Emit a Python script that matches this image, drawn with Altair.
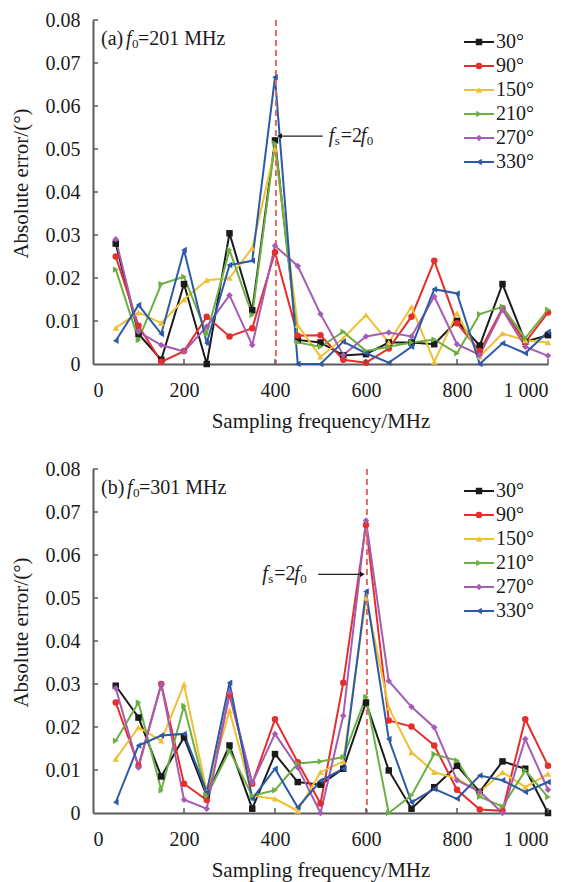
import altair as alt
import pandas as pd

# ---------------------------------------------------------------- data
freq_mhz = [50, 100, 150, 200, 250, 300, 350, 400, 450, 500,
            550, 600, 650, 700, 750, 800, 850, 900, 950, 1000]
angles = ["30°", "90°", "150°", "210°", "270°", "330°"]
line_colors = ["#1b1b1b", "#e42f2c", "#eec134", "#6cb043", "#a55db4", "#2d5aa7"]
marker_shapes = ["square", "circle", "triangle-up", "triangle-right", "diamond", "triangle-left"]

x_ticks = [0, 200, 400, 600, 800, 1000]
y_ticks = [0, 0.01, 0.02, 0.03, 0.04, 0.05, 0.06, 0.07, 0.08]

# (a) f0 = 201 MHz
f0_a = 201
err_a_30 = [0.028, 0.007, 0.001, 0.0186, 0.0, 0.0304, 0.0125, 0.052, 0.0056, 0.005,
            0.002, 0.0023, 0.005, 0.005, 0.0046, 0.010, 0.0043, 0.0186, 0.0052, 0.0067]
err_a_90 = [0.025, 0.0089, 0.0005, 0.003, 0.011, 0.0064, 0.0083, 0.026, 0.0066, 0.0067,
            0.001, 0.0003, 0.0036, 0.011, 0.024, 0.0095, 0.003, 0.013, 0.005, 0.012]
err_a_150 = [0.0084, 0.012, 0.0095, 0.015, 0.0195, 0.020, 0.027, 0.050, 0.009, 0.0017,
             0.006, 0.0114, 0.005, 0.0133, 0.0005, 0.0118, 0.0017, 0.0071, 0.0055, 0.005]
err_a_210 = [0.022, 0.0056, 0.0186, 0.0203, 0.007, 0.0265, 0.0114, 0.0513, 0.005, 0.004,
             0.0075, 0.003, 0.004, 0.005, 0.0057, 0.0025, 0.0116, 0.0133, 0.006, 0.0126]
err_a_270 = [0.029, 0.0075, 0.0044, 0.0029, 0.0087, 0.016, 0.0044, 0.0275, 0.0228, 0.0116,
             0.0021, 0.0064, 0.0073, 0.0064, 0.0157, 0.0046, 0.0021, 0.0126, 0.004, 0.0019]
err_a_330 = [0.0054, 0.0137, 0.007, 0.0265, 0.0049, 0.023, 0.024, 0.0667, 0.0, 0.0,
             0.0052, 0.0025, 0.0003, 0.004, 0.0174, 0.0164, 0.0, 0.0048, 0.0025, 0.0075]

# (b) f0 = 301 MHz
f0_b = 301
err_b_30 = [0.0296, 0.0222, 0.0085, 0.0176, 0.004, 0.0157, 0.001, 0.0137, 0.0072, 0.0066,
            0.0103, 0.0257, 0.0099, 0.001, 0.006, 0.011, 0.0049, 0.012, 0.0103, 0.0]
err_b_90 = [0.0257, 0.011, 0.030, 0.0068, 0.003, 0.0275, 0.0068, 0.0218, 0.0118, 0.0022,
            0.0303, 0.067, 0.0215, 0.0201, 0.0157, 0.0054, 0.0008, 0.0005, 0.0218, 0.011]
err_b_150 = [0.0126, 0.0199, 0.0168, 0.0299, 0.005, 0.0238, 0.004, 0.0033, 0.0005, 0.0095,
             0.012, 0.050, 0.0245, 0.0141, 0.0095, 0.008, 0.0049, 0.0095, 0.006, 0.0091]
err_b_210 = [0.0168, 0.0257, 0.0053, 0.0249, 0.004, 0.0145, 0.004, 0.0053, 0.0115, 0.012,
             0.013, 0.027, 0.0, 0.0041, 0.0137, 0.0122, 0.0038, 0.0015, 0.0099, 0.0037]
err_b_270 = [0.029, 0.0106, 0.0299, 0.0031, 0.001, 0.028, 0.007, 0.0184, 0.0106, 0.0,
             0.0226, 0.068, 0.0307, 0.0247, 0.0199, 0.0076, 0.005, 0.0, 0.0172, 0.0054]
err_b_330 = [0.0025, 0.0157, 0.018, 0.0184, 0.0049, 0.0303, 0.0033, 0.0103, 0.0013, 0.0075,
             0.0103, 0.0515, 0.0172, 0.0025, 0.0056, 0.0033, 0.0087, 0.0076, 0.0049, 0.0072]

# arrow pointing at the f_s = 2 f_0 line: tip / tail frequency and height
arrow_a = {"tip": 410, "tail": 505, "y": 0.053}
arrow_b = {"tip": 592, "tail": 495, "y": 0.0555}

# ---------------------------------------------------------------- style
FONT = "Liberation Serif, Times New Roman, serif"
AXIS_COLOR = "#5a5a5a"
TEXT_COLOR = "#1a1a1a"
W, H = 455, 344

x_scale = alt.Scale(domain=[0, 1000], nice=False, zero=False)
y_scale = alt.Scale(domain=[0, 0.08], nice=False)
color_scale = alt.Scale(domain=angles, range=line_colors)
shape_scale = alt.Scale(domain=angles, range=marker_shapes)

x_axis = alt.Axis(values=x_ticks, title="Sampling frequency/MHz", grid=False, ticks=False,
                  labelExpr="datum.value == 1000 ? '1 000' : datum.label",
                  labelPadding=16, titlePadding=10)
y_axis = alt.Axis(values=y_ticks, title="Absolute error/(°)", grid=False, ticks=False,
                  labelExpr="datum.value == 0 ? '0' : format(datum.value, '.2f')",
                  labelPadding=13, titlePadding=14, titleY=163)


def xq(field):
    # every layer that places marks by frequency shares one x scale and one x axis
    return alt.X(field, type="quantitative", scale=x_scale, axis=x_axis)


def series_frame(series):
    rows = []
    for ang, vals in zip(angles, series):
        for f, v in zip(freq_mhz, vals):
            rows.append({"freq": f, "err": v, "angle": ang})
    return pd.DataFrame(rows)


def text_runs(frame, parts, x_enc, y_enc, base_dx=0):
    """Draw a run of text pieces (normal / italic / subscript) side by side."""
    layers = []
    for text, style, size, dx, dy in parts:
        layers.append(
            alt.Chart(frame).mark_text(
                text=text, font=FONT, fontSize=size, fontStyle=style,
                align="left", baseline="middle", color=TEXT_COLOR,
                dx=base_dx + dx, dy=dy,
            ).encode(x=x_enc, y=y_enc)
        )
    return layers


def fs_parts():
    return [("f", "italic", 20, 0, 0), ("s", "normal", 13, 6, 5),
            ("=2", "normal", 20, 12, 0), ("f", "italic", 20, 32, 0),
            ("0", "normal", 13, 38, 5)]


def panel(series, tag, f0, arrow, text_dx, head_shape):
    df = series_frame(series)
    color = alt.Color("angle:N", scale=color_scale, legend=None)

    lines = alt.Chart(df).mark_line(strokeWidth=2).encode(
        x=xq("freq"),
        y=alt.Y("err:Q", scale=y_scale, axis=y_axis),
        color=color,
    )
    points = alt.Chart(df).mark_point(filled=True, size=42, opacity=1).encode(
        x=xq("freq"),
        y=alt.Y("err:Q", scale=y_scale, axis=None),
        color=color,
        shape=alt.Shape("angle:N", scale=shape_scale, legend=None),
    )

    # inward tick marks on both axes
    ytick = alt.Chart(pd.DataFrame({"v": y_ticks[1:]})).mark_rule(
        color=AXIS_COLOR, strokeWidth=1.5).encode(
        y=alt.Y("v:Q", scale=y_scale, axis=None), x=alt.value(0), x2=alt.value(5))
    xtick = alt.Chart(pd.DataFrame({"v": x_ticks[1:]})).mark_rule(
        color=AXIS_COLOR, strokeWidth=1.5).encode(
        x=xq("v"), y=alt.value(H), y2=alt.value(H - 5))

    # dashed line at f_s = 2 f_0
    fs_df = pd.DataFrame({"fs": [2 * f0]})
    fs_rule = alt.Chart(fs_df).mark_rule(
        color="#e06a6a", strokeDash=[6, 4], strokeWidth=2).encode(
        x=xq("fs"), y=alt.value(0), y2=alt.value(H))

    # arrow with its f_s = 2 f_0 label
    arr_df = pd.DataFrame([arrow])
    arr_line = alt.Chart(arr_df).mark_rule(color="#222222", strokeWidth=1.2).encode(
        x=xq("tail"), x2="tip:Q",
        y=alt.Y("y:Q", scale=y_scale, axis=None))
    arr_head = alt.Chart(arr_df).mark_point(
        filled=True, size=30, opacity=1, color="#111111", shape=head_shape).encode(
        x=xq("tip"),
        y=alt.Y("y:Q", scale=y_scale, axis=None))
    arr_text = text_runs(arr_df, fs_parts(), xq("tail"),
                         alt.Y("y:Q", scale=y_scale, axis=None), base_dx=text_dx)

    # panel tag, e.g. "(a) f0=201 MHz"
    tag_df = pd.DataFrame({"tag": [tag]})
    tag_w = 22 if tag == "(a)" else 23
    tag_parts = [(tag, "normal", 20, 0, 0), ("f", "italic", 20, tag_w + 3, 0),
                 ("0", "normal", 13, tag_w + 9, 5),
                 (f"={f0} MHz", "normal", 20, tag_w + 15, 0)]
    tag_text = text_runs(tag_df, tag_parts, alt.value(8), alt.value(19))

    # legend: short line with marker, then the angle
    leg_df = pd.DataFrame({"angle": angles})
    leg_y = alt.Y("angle:N", axis=None,
                  scale=alt.Scale(type="point", domain=angles, range=[22, 142], padding=0))
    leg_line = alt.Chart(leg_df).mark_rule(strokeWidth=2).encode(
        x=alt.value(371), x2=alt.value(401), y=leg_y, color=color)
    leg_pt = alt.Chart(leg_df).mark_point(filled=True, size=42, opacity=1).encode(
        x=alt.value(386), y=leg_y, color=color,
        shape=alt.Shape("angle:N", scale=shape_scale, legend=None))
    leg_txt = alt.Chart(leg_df).mark_text(
        align="left", baseline="middle", font=FONT, fontSize=20, color=TEXT_COLOR).encode(
        x=alt.value(403), y=leg_y, text="angle:N")

    layers = [lines, fs_rule, points, ytick, xtick, arr_line, arr_head] + arr_text \
        + tag_text + [leg_line, leg_pt, leg_txt]
    return alt.layer(*layers).resolve_scale(y="independent").properties(width=W, height=H)


panel_a = panel([err_a_30, err_a_90, err_a_150, err_a_210, err_a_270, err_a_330],
                "(a)", f0_a, arrow_a, 6, "triangle-left")
panel_b = panel([err_b_30, err_b_90, err_b_150, err_b_210, err_b_270, err_b_330],
                "(b)", f0_b, arrow_b, -56, "triangle-right")

chart = alt.vconcat(panel_a, panel_b, spacing=28).configure(
    font=FONT, padding={"left": 10, "top": 10, "right": 2, "bottom": 2},
).configure_view(stroke=None).configure_axis(
    labelFont=FONT, titleFont=FONT, labelFontSize=20, titleFontSize=21,
    titleFontWeight="normal", labelColor=TEXT_COLOR, titleColor=TEXT_COLOR,
    domainColor=AXIS_COLOR, domainWidth=2,
)

chart.save("out.html", embed_options={"renderer": "svg", "actions": False})
